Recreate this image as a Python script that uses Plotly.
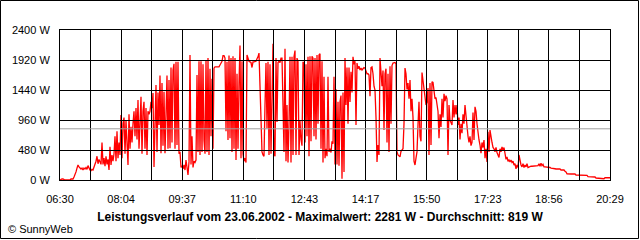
import plotly.graph_objects as go

# ---- data -------------------------------------------------------------
DATE = "23.06.2002"
START_MIN = 390    # 06:30
END_MIN = 1229     # 20:29
MAX_W = 2281
AVERAGE_W = 819

x_tick_labels = ["06:30", "08:04", "09:37", "11:10", "12:43",
                 "14:17", "15:50", "17:23", "18:56", "20:29"]
y_tick_values = [0, 480, 960, 1440, 1920, 2400]
y_tick_labels = ["0 W", "480 W", "960 W", "1440 W", "1920 W", "2400 W"]

# power readings (W), evenly spaced between 06:30 and 20:29
power_w = [
    0, 16, 16, 16, 0, 0, 0, 0, 0, 0,
    0, 16, 16, 16, 48, 80, 130, 190, 240, 210,
    200, 176, 190, 160, 190, 176, 200, 170, 230, 180,
    160, 150, 170, 160, 210, 240, 300, 380, 260, 330,
    300, 250, 600, 250, 350, 220, 380, 250, 330, 160,
    530, 240, 400, 300, 420, 700, 300, 780, 350, 600,
    400, 1040, 350, 900, 1000, 420, 950, 600, 240, 1050,
    500, 850, 600, 900, 1100, 700, 1150, 650, 1280, 500,
    1050, 1330, 420, 1100, 1250, 500, 1150, 400, 1100, 1050,
    1100, 1250, 1150, 1390, 210, 1000, 1520, 450, 1400, 880,
    1670, 430, 1550, 550, 1410, 430, 1400, 1670, 500, 1600,
    510, 1800, 600, 1760, 1860, 500, 1890, 560, 1890, 420,
    450, 200, 230, 180, 240, 160, 320, 160, 80, 290,
    2000, 250, 700, 200, 300, 280, 320, 1680, 450, 1900,
    400, 1900, 450, 1850, 640, 420, 1920, 450, 1950, 400,
    1780, 700, 1620, 500, 1790, 1810, 1810, 1810, 1820, 1810,
    1840, 1880, 1900, 1990, 1990, 1950, 780, 1890, 640, 1990,
    670, 1950, 450, 1980, 500, 1950, 320, 1700, 500, 1550,
    2150, 350, 1900, 420, 300, 350, 280, 2000, 1940, 1900,
    1890, 1880, 1800, 1890, 1890, 1900, 1900, 1940, 1970, 2030,
    1400, 720, 450, 400, 380, 1200, 1870, 830, 1890, 400,
    1850, 420, 1400, 2180, 420, 380, 1950, 930, 1880, 1900,
    1880, 1950, 1950, 1100, 450, 2100, 300, 1200, 280, 900,
    1970, 280, 1970, 400, 1970, 2070, 400, 1950, 1900, 400,
    950, 650, 550, 1890, 1870, 600, 1850, 700, 1970, 380,
    1980, 620, 1980, 1950, 700, 1950, 650, 2000, 900, 2000,
    2020, 500, 1900, 280, 1650, 350, 500, 380, 1650, 450,
    500, 440, 620, 580, 1650, 250, 1450, 250, 1250, 230,
    1250, 1350, 20, 1400, 130, 1950, 1200, 1800, 900, 1800,
    1250, 1730, 1400, 1970, 1850, 1900, 880, 1870, 1780, 1820,
    1760, 1790, 1760, 1780, 1800, 1790, 1720, 1700, 1700, 1680,
    1340, 1800, 1810, 1700, 1500, 1440, 1000, 290, 560, 400,
    1950, 1700, 1500, 1750, 800, 1700, 1780, 600, 1700, 450,
    1820, 900, 1830, 1870, 1880, 1880, 1860, 450, 400, 380,
    370, 460, 480, 500, 900, 1790, 1700, 1450, 1550, 1300,
    1600, 1100, 1300, 1000, 300, 240, 350, 450, 880, 1250,
    700, 620, 1720, 1600, 1400, 1350, 1200, 1250, 1470, 400,
    1550, 560, 1570, 1560, 1410, 1300, 1320, 1200, 1100, 670,
    1050, 850, 1300, 1000, 1380, 1260, 1350, 1300, 400, 1200,
    950, 920, 880, 1280, 1000, 1200, 1050, 1200, 880, 1000,
    650, 900, 750, 1050, 900, 1200, 1000, 850, 700, 600,
    700, 550, 600, 1080, 640, 1170, 1100, 900, 700, 640,
    560, 430, 600, 520, 640, 350, 500, 290, 770, 450,
    800, 670, 600, 520, 500, 450, 520, 440, 400, 360,
    500, 450, 530, 480, 520, 400, 330, 370, 300, 320,
    290, 320, 280, 300, 240, 260, 180, 240, 200, 400,
    290, 240, 210, 260, 200, 240, 210, 260, 200, 210,
    220, 220, 220, 220, 220, 220, 220, 220, 230, 260,
    220, 270, 230, 250, 210, 210, 210, 200, 200, 200,
    200, 190, 190, 190, 190, 180, 176, 176, 176, 176,
    176, 160, 160, 160, 160, 140, 130, 100, 96, 96,
    96, 96, 96, 96, 96, 96, 80, 80, 80, 75,
    75, 75, 75, 75, 75, 75, 75, 75, 55, 55,
    55, 55, 55, 48, 48, 48, 32, 32, 32, 32,
    20, 20, 20, 20, 20, 36, 36, 36, 36, 36, 36,
]

# ---- derived ------------------------------------------------------------
n = len(power_w)
step = (END_MIN - START_MIN) / (n - 1)
times = [START_MIN + i * step for i in range(n)]

n_grid = 2 * (len(x_tick_labels) - 1)
x_grid = [START_MIN + k * (END_MIN - START_MIN) / n_grid for k in range(n_grid + 1)]
x_grid_text = [x_tick_labels[k // 2] if k % 2 == 0 else "" for k in range(n_grid + 1)]

W, H = 640, 240
L, R, T, B = 60, 30, 30, 60
PW, PH = W - L - R, H - T - B

FONT = "Liberation Sans, Arial, sans-serif"

fig = go.Figure()
fig.add_trace(go.Scatter(
    x=times, y=power_w, mode="lines",
    line=dict(color="#ff0000", width=1.3),
    hoverinfo="skip", showlegend=False,
))

axis_common = dict(
    showgrid=False, zeroline=False, showline=True, linecolor="black",
    linewidth=1, mirror=True, ticks="inside", tickcolor="black",
    tickwidth=1, layer="above traces", fixedrange=True,
    tickfont=dict(family=FONT, size=11, color="black"),
)

fig.update_xaxes(range=[START_MIN, END_MIN], tickmode="array",
                 tickvals=x_grid, ticktext=x_grid_text, ticklen=PH,
                 ticklabelstandoff=9, **axis_common)
fig.update_yaxes(range=[0, 2400], tickmode="array",
                 tickvals=y_tick_values, ticktext=y_tick_labels, ticklen=PW,
                 ticklabelstandoff=7, **axis_common)

def px_x(p):
    return (p - L) / PW

def px_y(p):
    return (H - B - p) / PH

fig.add_shape(type="line", xref="x", yref="y", x0=START_MIN, x1=END_MIN,
              y0=AVERAGE_W, y1=AVERAGE_W, layer="above",
              line=dict(color="#a0a0a0", width=1))
fig.add_shape(type="rect", xref="paper", yref="paper",
              x0=px_x(0.5), x1=px_x(638.5), y0=px_y(238.5), y1=px_y(0.5),
              line=dict(color="black", width=1), layer="above")

fig.update_layout(
    width=W, height=H, autosize=False,
    margin=dict(l=L, r=R, t=T, b=B, pad=0),
    paper_bgcolor="white", plot_bgcolor="white",
    title=dict(
        text=f"<b>Leistungsverlauf vom {DATE} - Maximalwert: {MAX_W} W - Durchschnitt: {AVERAGE_W} W</b>",
        x=0.5, xref="container", xanchor="center",
        y=1 - 217 / H, yref="container", yanchor="middle",
        font=dict(family=FONT, size=12, color="black"),
    ),
    annotations=[dict(
        text="© SunnyWeb", xref="paper", yref="paper",
        x=px_x(6), y=px_y(228.5), xanchor="left", yanchor="middle",
        showarrow=False, font=dict(family=FONT, size=11, color="black"),
    )],
)

fig.write_html("out.html")
